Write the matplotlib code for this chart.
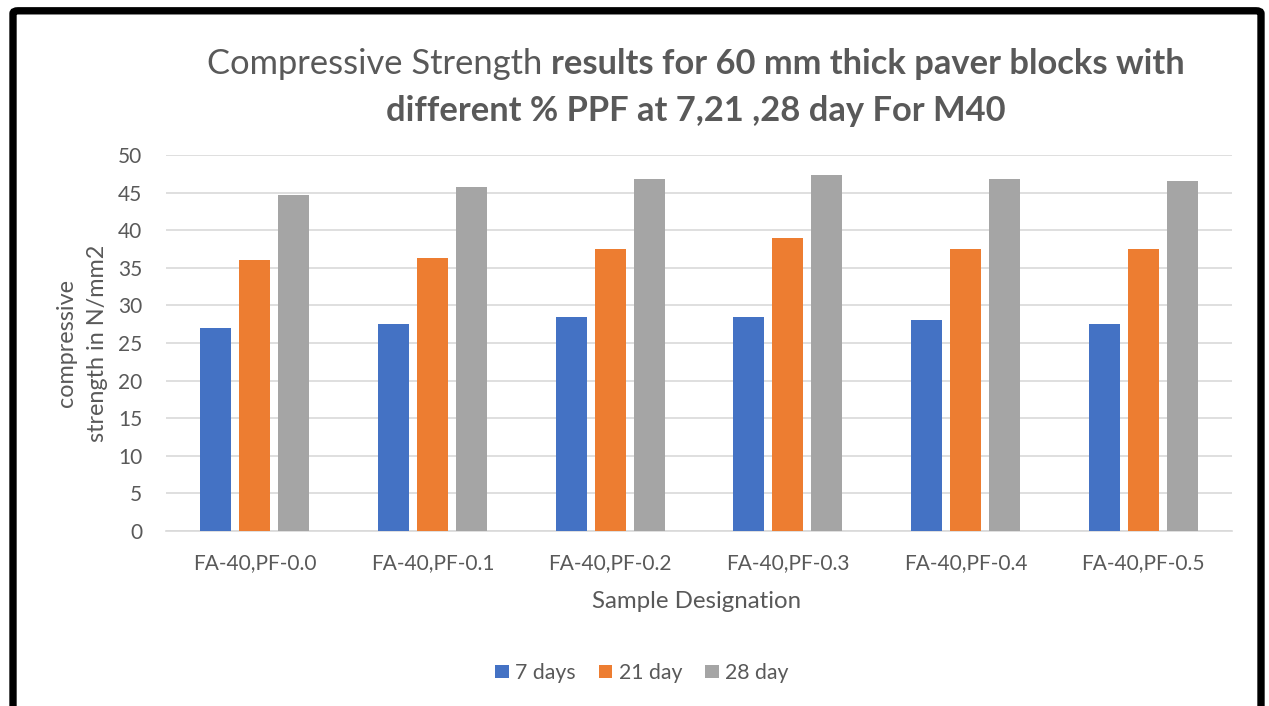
import matplotlib
matplotlib.use("Agg")
import matplotlib.pyplot as plt
from matplotlib.patches import FancyBboxPatch
import numpy as np

categories = ["FA-40,PF-0.0", "FA-40,PF-0.1", "FA-40,PF-0.2", "FA-40,PF-0.3", "FA-40,PF-0.4", "FA-40,PF-0.5"]
days7 = [27.0, 27.5, 28.5, 28.4, 28.0, 27.5]
days21 = [36.0, 36.35, 37.5, 38.96, 37.5, 37.5]
days28 = [44.7, 45.7, 46.85, 47.3, 46.85, 46.6]
series_names = ["7 days", "21 day", "28 day"]
colors = ["#4472C4", "#ED7D31", "#A5A5A5"]
yticks = [0, 5, 10, 15, 20, 25, 30, 35, 40, 45, 50]

FONT = "Lato"
TXT = "#595959"
plt.rcParams["font.family"] = [FONT, "DejaVu Sans"]

W, H = 1269, 706
fig = plt.figure(figsize=(W / 100, H / 100), dpi=100)
fig.patch.set_facecolor("white")

ax = fig.add_axes([166 / W, 1 - 531 / H, (1232 - 166) / W, (531 - 155) / H])
x = np.arange(len(categories))
bw = 0.175
offs = [-0.22, 0.0, 0.22]
for vals, name, c, o in zip([days7, days21, days28], series_names, colors, offs):
    ax.bar(x + o, vals, width=bw, color=c, label=name, zorder=3)

ax.set_xlim(-0.5, len(categories) - 0.5)
ax.set_ylim(0, 50)
ax.set_yticks(yticks)
ax.set_xticks(x)
ax.set_xticklabels(categories)
ax.tick_params(axis="both", length=0, colors=TXT, labelsize=15)
ax.tick_params(axis="y", pad=17)
ax.tick_params(axis="x", pad=16)
ax.grid(axis="y", color="#D9D9D9", linewidth=1.2, zorder=0)
for s in ["top", "right", "left"]:
    ax.spines[s].set_visible(False)
ax.spines["bottom"].set_color("#D9D9D9")
ax.spines["bottom"].set_linewidth(1.2)
ax.spines["bottom"].set_zorder(1)

fig.text(697 / W, 1 - 601 / H, "Sample Designation", ha="center", va="center",
         color=TXT, fontsize=17.3)
fig.text(82 / W, 1 - 343 / H, "compressive\nstrength in N/mm2", ha="center", va="center",
         rotation=90, color=TXT, fontsize=16.8, linespacing=1.6)

# Title with mixed weights
fig.canvas.draw()
r = fig.canvas.get_renderer()
tsize = 24.8
t1 = fig.text(0, 1 - 64 / H, "Compressive Strength ", ha="left", va="center",
              color=TXT, fontsize=tsize)
t2 = fig.text(0, 1 - 64 / H, "results for 60 mm thick paver blocks with", ha="left",
              va="center", color=TXT, fontsize=tsize, fontweight="bold")
w1 = t1.get_window_extent(r).width
w2 = t2.get_window_extent(r).width
start = 695.5 - (w1 + w2) / 2
t1.set_x(start / W)
t2.set_x((start + w1) / W)
fig.text(696 / W, 1 - 111 / H, "different % PPF at 7,21 ,28 day For M40", ha="center",
         va="center", color=TXT, fontsize=tsize, fontweight="bold")

leg = fig.legend(loc="center", bbox_to_anchor=(642 / W, 1 - 673 / H), ncol=3,
                 frameon=False, fontsize=15.3, handlelength=0.62, handleheight=0.62,
                 columnspacing=1.1, handletextpad=0.3, labelcolor=TXT)

border = FancyBboxPatch((13 / W, 1 - 740 / H), (1261 - 13) / W, (740 - 10.8) / H,
                        boxstyle="round,pad=0,rounding_size=0.004",
                        transform=fig.transFigure, fill=False, edgecolor="black",
                        linewidth=5.3, zorder=10)
fig.patches.append(border)

fig.savefig("out.png", dpi=100, facecolor="white")
